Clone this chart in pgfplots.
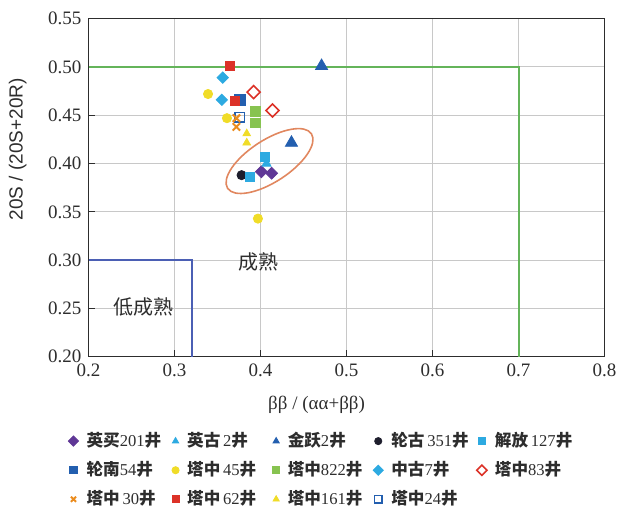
\documentclass[border=0pt]{standalone}
\usepackage{pgfplots}
\pgfplotsset{compat=1.18}
\usepackage{fontspec}
\setmainfont{Liberation Serif}
\setsansfont{Liberation Sans}
\newfontfamily\cjk{Noto Sans CJK SC}
\definecolor{cPurple}{RGB}{95,55,150}
\definecolor{cLBlue}{RGB}{45,170,225}
\definecolor{cBlue}{RGB}{35,95,175}
\definecolor{cBlack}{RGB}{30,30,45}
\definecolor{cYellow}{RGB}{240,220,40}
\definecolor{cGreen}{RGB}{135,195,80}
\definecolor{cRed}{RGB}{220,50,40}
\definecolor{cOrange}{RGB}{235,140,30}
\definecolor{cLineGreen}{RGB}{100,180,90}
\definecolor{cLineBlue}{RGB}{75,95,180}
\definecolor{cEllipse}{RGB}{225,135,95}
\definecolor{cText}{RGB}{45,45,45}
\definecolor{cGrid}{RGB}{200,200,200}
\newcommand{\lgd}[1]{\makebox[42.7pt][l]{#1}}
\newcommand{\cj}[1]{{\cjk\bfseries #1}}
\begin{document}
\begin{tikzpicture}
\begin{axis}[
  at={(0,0)}, anchor=south west,
  scale only axis, width=258pt, height=169pt,
  xmin=0.2, xmax=0.8, ymin=0.2, ymax=0.55,
  xtick={0.2,0.3,0.4,0.5,0.6,0.7,0.8},
  ytick={0.20,0.25,0.30,0.35,0.40,0.45,0.50,0.55},
  xticklabel style={/pgf/number format/.cd, fixed, fixed zerofill, precision=1},
  yticklabel style={/pgf/number format/.cd, fixed, fixed zerofill, precision=2},
  /pgf/number format/assume math mode=true,
  tick label style={font=\fontsize{9.5}{10}\selectfont, text=cText},
  tick pos=left, tick align=inside, major tick length=3.3pt,
  grid=major, major grid style={cGrid, line width=0.5pt},
  axis line style={draw=cText, line width=0.7pt},
  every tick/.style={draw=cText, line width=0.6pt},
  xlabel={ββ / (αα+ββ)},
  xlabel style={font=\fontsize{9.5}{10}\selectfont, text=cText, at={(axis description cs:0.442,-0.143)}, anchor=center},
  ylabel={\sffamily 20S / (20S+20R)},
  ylabel style={font=\fontsize{9.5}{10}\selectfont, text=cText, at={(axis description cs:-0.137,0.614)}, anchor=center, rotate=0},
  legend columns=5,
  legend style={at={(axis description cs:-0.039,-0.224)}, anchor=north west, draw=none, fill=none,
    inner sep=0pt, outer sep=0pt, font=\fontsize{8.3}{9}\selectfont,
    nodes={inner sep=0pt, text=cText}, row sep=5.9pt,
    /tikz/every odd column/.append style={column sep=4pt}},
  legend cell align=left,
  legend image post style={mark size=1.8pt},
]
% boundary lines
\addplot[forget plot, cLineGreen, line width=1pt] coordinates {(0.2,0.5) (0.7,0.5) (0.7,0.2)};
\addplot[forget plot, cLineBlue, line width=1pt] coordinates {(0.2,0.3) (0.32,0.3) (0.32,0.2)};

\addplot[only marks, mark=square*, mark size=2.1pt, mark options={rotate=45, draw=cPurple, fill=cPurple}] coordinates {(0.401,0.3915) (0.413,0.390)};
\addlegendentry{\lgd{\cj{英买}201\cj{井}}}
\addplot[only marks, mark=triangle*, mark size=2.6pt, mark options={draw=cLBlue, fill=cLBlue}] coordinates {(0.407,0.400)};
\addlegendentry{\lgd{\cj{英古}\,2\cj{井}}}
\addplot[only marks, mark=triangle*, mark size=3.5pt, mark options={draw=cBlue, fill=cBlue}] coordinates {(0.471,0.501) (0.436,0.4215)};
\addlegendentry{\lgd{\cj{金跃}2\cj{井}}}
\addplot[only marks, mark=*, mark size=2.3pt, mark options={draw=cBlack, fill=cBlack}] coordinates {(0.378,0.388)};
\addlegendentry{\lgd{\cj{轮古}\,351\cj{井}}}
\addplot[only marks, mark=square*, mark size=2.3pt, mark options={draw=cLBlue, fill=cLBlue}] coordinates {(0.405,0.407) (0.388,0.386)};
\addlegendentry{\lgd{\cj{解放}\,127\cj{井}}}
\addplot[only marks, mark=square*, mark size=2.8pt, mark options={draw=cBlue, fill=cBlue}] coordinates {(0.376,0.466)};
\addlegendentry{\lgd{\cj{轮南}54\cj{井}}}
\addplot[only marks, mark=*, mark size=2.3pt, mark options={draw=cYellow, fill=cYellow}] coordinates {(0.339,0.472) (0.361,0.447) (0.397,0.343)};
\addlegendentry{\lgd{\cj{塔中}\,45\cj{井}}}
\addplot[only marks, mark=square*, mark size=2.3pt, mark options={draw=cGreen, fill=cGreen}] coordinates {(0.394,0.454) (0.394,0.442)};
\addlegendentry{\lgd{\cj{塔中}822\cj{井}}}
\addplot[only marks, mark=square*, mark size=2.0pt, mark options={rotate=45, draw=cLBlue, fill=cLBlue}] coordinates {(0.356,0.489) (0.355,0.466)};
\addlegendentry{\lgd{\cj{中古}7\cj{井}}}
\addplot[only marks, mark=square, mark size=2.3pt, mark options={rotate=45, draw=cRed, fill=white, line width=0.8pt}] coordinates {(0.392,0.474) (0.414,0.455)};
\addlegendentry{\lgd{\cj{塔中}83\cj{井}}}
\addplot[only marks, mark=square, mark size=2.4pt, mark options={draw=cBlue, line width=0.8pt}, forget plot] coordinates {(0.376,0.448)};
\addplot[only marks, mark=x, mark size=2.6pt, mark options={draw=cOrange, line width=1pt}] coordinates {(0.372,0.447) (0.372,0.438)};
\addlegendentry{\lgd{\cj{塔中}\,30\cj{井}}}
\addplot[only marks, mark=square*, mark size=2.2pt, mark options={draw=cRed, fill=cRed}] coordinates {(0.364,0.501) (0.370,0.465)};
\addlegendentry{\lgd{\cj{塔中}\,62\cj{井}}}
\addplot[only marks, mark=triangle*, mark size=2.2pt, mark options={draw=cYellow, fill=cYellow}] coordinates {(0.384,0.431) (0.384,0.4215)};
\addlegendentry{\lgd{\cj{塔中}161\cj{井}}}
\addlegendimage{only marks, mark=square, mark size=1.8pt, mark options={draw=cBlue, line width=0.8pt}}
\addlegendentry{\lgd{\cj{塔中}24\cj{井}}}

\node[font=\cjk\fontsize{10}{11}\selectfont, text=cText] at (axis cs:0.398,0.298) {成熟};
\node[font=\cjk\fontsize{10}{11}\selectfont, text=cText] at (axis cs:0.264,0.252) {低成熟};
\coordinate (ec) at (axis cs:0.4105,0.4026);
\end{axis}
\draw[cEllipse, line width=0.8pt, rotate around={33:(ec)}] (ec) ellipse [x radius=25pt, y radius=10.5pt];
\pgfresetboundingbox
\path[use as bounding box] (-44.25pt,-76.15pt) rectangle (265.25pt,178.35pt);
\end{tikzpicture}
\end{document}
